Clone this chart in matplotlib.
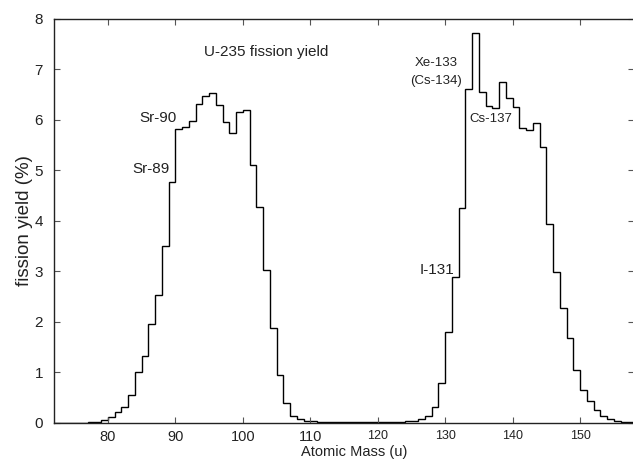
import numpy as np
import matplotlib
matplotlib.use('Agg')
import matplotlib.pyplot as plt

plt.rcParams['font.family'] = ['Liberation Sans', 'DejaVu Sans']

# mass number A, yield drawn over [A, A+1]
masses = list(range(72, 158))
yields = [0.0, 0.0002, 0.0005, 0.001, 0.003, 0.008, 0.02, 0.05,
          0.12, 0.21, 0.32, 0.55, 1.00, 1.32, 1.95, 2.53, 3.50, 4.76,
          5.83, 5.86, 5.97, 6.31, 6.48, 6.54, 6.30, 5.96, 5.75, 6.16,
          6.19, 5.10, 4.28, 3.02, 1.87, 0.94, 0.40, 0.13, 0.07, 0.03,
          0.025, 0.018, 0.013, 0.014, 0.012, 0.011, 0.012, 0.013, 0.013, 0.013,
          0.013, 0.013, 0.015, 0.016, 0.027, 0.035, 0.07, 0.13, 0.32, 0.78,
          1.80, 2.88, 4.26, 6.61, 7.73, 6.55, 6.27, 6.24, 6.75, 6.44,
          6.26, 5.84, 5.80, 5.94, 5.47, 3.93, 2.98, 2.27, 1.67, 1.04,
          0.65, 0.43, 0.25, 0.14, 0.07, 0.03, 0.012, 0.005]

xticks = [80, 90, 100, 110, 120, 130, 140, 150]
yticks = [0, 1, 2, 3, 4, 5, 6, 7, 8]

# isotope labels: text, x, y, size, alignment
labels = [("Sr-90", 90.2, 6.04, 11, 'right'),
          ("Sr-89", 89.2, 5.02, 11, 'right'),
          ("Xe-133", 128.7, 7.12, 9.5, 'center'),
          ("(Cs-134)", 128.7, 6.78, 9.5, 'center'),
          ("Cs-137", 136.8, 6.02, 9.5, 'center'),
          ("I-131", 131.3, 3.02, 11, 'right')]

fig = plt.figure(figsize=(6.33, 4.61), dpi=100)
ax = fig.add_axes([54/633, 1 - 422.7/461, (634 - 54)/633, (422.7 - 19)/461])

edges = np.array(masses + [masses[-1] + 1])
ax.stairs(yields, edges, color='black', lw=1.0)

ax.set_xlim(72, 158)
ax.set_ylim(0, 8)
ax.set_xticks(xticks)
ax.set_yticks(yticks)
ax.tick_params(direction='in', length=4, top=True, right=True, color='#555555',
               labelcolor='#222222')
ax.tick_params(axis='x', labelsize=10.5, pad=5)
ax.tick_params(axis='y', labelsize=11, pad=8)
for lab in ax.get_xticklabels():
    if int(lab.get_text()) >= 120:
        lab.set_fontsize(9)

for s in ax.spines.values():
    s.set_linewidth(1.0)
    s.set_color('#222222')

ax.set_xlabel('Atomic Mass (u)', fontsize=10.5, color='#222222')
ax.xaxis.set_label_coords(0.517, -0.055)
ax.set_ylabel('fission yield (%)', fontsize=13.5, color='#222222')
ax.yaxis.set_label_coords(-0.036, 0.5)

ax.text(103.4, 7.34, 'U-235 fission yield', fontsize=11, ha='center', va='center',
        color='#222222')
for txt, x, y, size, ha in labels:
    ax.text(x, y, txt, fontsize=size, ha=ha, va='center', color='#222222')

fig.savefig('out.png', dpi=100)
